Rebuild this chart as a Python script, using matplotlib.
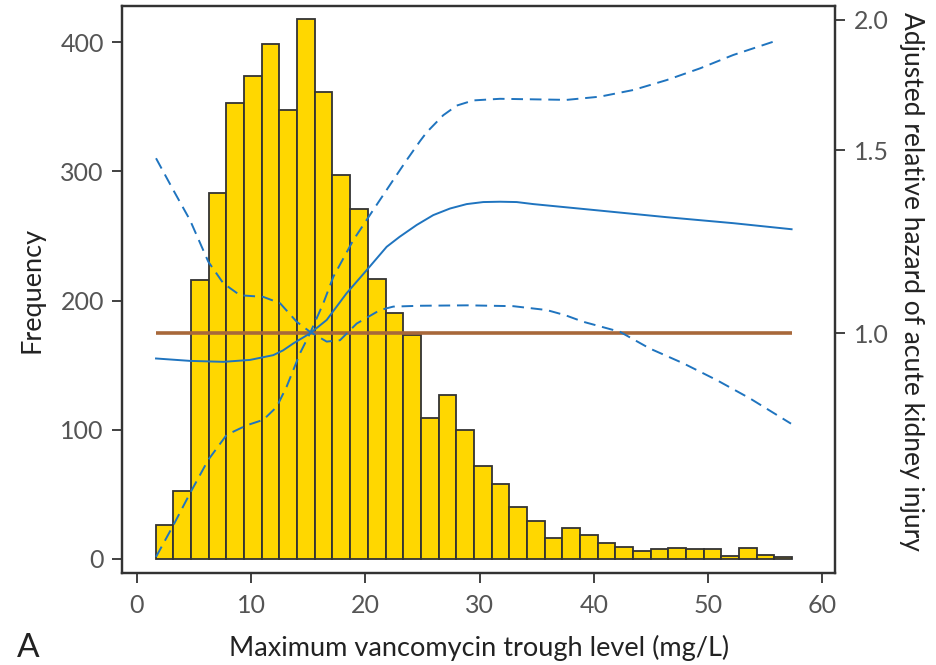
import numpy as np
import matplotlib
matplotlib.use("Agg")
import matplotlib.pyplot as plt
from matplotlib.ticker import FixedLocator, NullLocator, FixedFormatter

# histogram of maximum trough levels
counts = [26, 52, 216, 283, 353, 374, 399, 348, 418, 362, 297, 271, 217, 190, 173,
          109, 127, 100, 72, 58, 40, 29, 16, 24, 18, 12, 9, 6, 7, 8, 7, 7, 2, 8, 3, 1]
level_min, level_max = 1.66, 57.35

# spline hazard ratio (solid) and its confidence bounds (dashed)
hr_x = [1.69, 4.66, 7.58, 9.91, 11.95, 12.8, 13.7, 15.16, 16.62, 18.37, 20.12, 21.87,
        23.0, 24.5, 25.95, 27.41, 28.87, 30.32, 31.79, 33.25, 34.7, 40.53, 46.37, 52.2,
        57.3]
hr_y = [0.946, 0.941, 0.939, 0.943, 0.953, 0.963, 0.978, 1.0, 1.030, 1.093, 1.150, 1.211,
        1.238, 1.271, 1.299, 1.318, 1.331, 1.337, 1.338, 1.337, 1.331, 1.312, 1.293, 1.276,
        1.259]

ci_a_x = [1.69, 3.2, 4.66, 6.26, 7.58, 9.04, 11.08, 12.54, 14.0, 15.16, 16.62, 17.79,
          19.25, 21.29, 22.45, 24.79, 29.0, 32.95, 35.87, 37.5, 39.07, 42.28, 44.9, 47.82,
          50.74, 53.66, 57.25]
ci_a_y = [1.473, 1.373, 1.285, 1.172, 1.117, 1.088, 1.084, 1.069, 1.026, 1.0035, 0.982,
          0.985, 1.022, 1.053, 1.061, 1.063, 1.064, 1.062, 1.053, 1.041, 1.026, 1.0035,
          0.967, 0.936, 0.902, 0.866, 0.819]

ci_b_x = [1.69, 3.2, 4.66, 6.26, 7.87, 9.62, 11.08, 12.25, 13.12, 14.29, 15.16, 16.33,
          17.2, 18.95, 20.7, 22.45, 23.62, 24.79, 25.37, 26.82, 28.0, 29.45, 31.79, 34.7,
          37.62, 40.53, 43.45, 46.37, 49.29, 52.2, 56.13]
ci_b_y = [0.610, 0.654, 0.702, 0.756, 0.799, 0.816, 0.826, 0.850, 0.889, 0.957, 1.0, 1.069,
          1.133, 1.229, 1.314, 1.404, 1.467, 1.530, 1.560, 1.620, 1.655, 1.674, 1.680, 1.678,
          1.676, 1.688, 1.713, 1.751, 1.797, 1.851, 1.913]

freq_ticks = [0, 100, 200, 300, 400]
hr_ticks = [1.0, 1.5, 2.0]
hr_tick_labels = ["1.0", "1.5", "2.0"]
x_ticks = [0, 10, 20, 30, 40, 50, 60]

plt.rcParams['font.family'] = ['Lato', 'DejaVu Sans']

fig = plt.figure(figsize=(9.36, 6.65), dpi=100)
ax = fig.add_axes([0.1303, 0.1376, 0.7623, 0.8538])

edges = np.linspace(level_min, level_max, len(counts) + 1)
ax.bar(edges[:-1], counts, width=np.diff(edges), align='edge',
       color='#FFD700', edgecolor='#333333', linewidth=1.3)

ax.set_xlim(-1.29, 61.14)
ax.set_ylim(-11.6, 428.5)
ax.set_xticks(x_ticks)
ax.set_yticks(freq_ticks)

ax2 = ax.twinx()
ax2.set_yscale('log')
ax2.set_ylim(0.588, 2.064)
ax2.yaxis.set_major_locator(FixedLocator(hr_ticks))
ax2.yaxis.set_major_formatter(FixedFormatter(hr_tick_labels))
ax2.yaxis.set_minor_locator(NullLocator())

blue = '#1f74bf'
dash = (0, (6, 3.5))
ax2.hlines(1.0, level_min, level_max, color='#a8683a', linewidth=2.6, zorder=2)
ax2.plot(hr_x, hr_y, color=blue, linewidth=1.4, zorder=3, solid_joinstyle='round')
ax2.plot(ci_a_x, ci_a_y, color=blue, linewidth=1.4, linestyle=dash, zorder=3)
ax2.plot(ci_b_x, ci_b_y, color=blue, linewidth=1.4, linestyle=dash, zorder=3)

for a in (ax, ax2):
    for sp in a.spines.values():
        sp.set_color('#333333')
        sp.set_linewidth(1.6)
    a.tick_params(direction='out', length=7, width=1.3, color='#333333',
                  labelcolor='#555555', labelsize=18)

ax.tick_params(axis='x', pad=8)
ax.tick_params(axis='y', pad=6)
ax2.tick_params(axis='y', pad=6)

ax.set_xlabel('Maximum vancomycin trough level (mg/L)', fontsize=19.5, color='#222222')
ax.xaxis.set_label_coords(0.5, -0.108)
ax.set_ylabel('Frequency', fontsize=19.5, color='#222222')
ax.yaxis.set_label_coords(-0.108, 0.5)
ax2.set_ylabel('Adjusted relative hazard of acute kidney injury', fontsize=19,
               color='#222222', rotation=-90, va='center')
ax2.yaxis.set_label_coords(1.106, 0.515)

fig.text(0.018, 0.012, 'A', fontsize=24, color='#222222')

fig.savefig('out.png', dpi=100)
